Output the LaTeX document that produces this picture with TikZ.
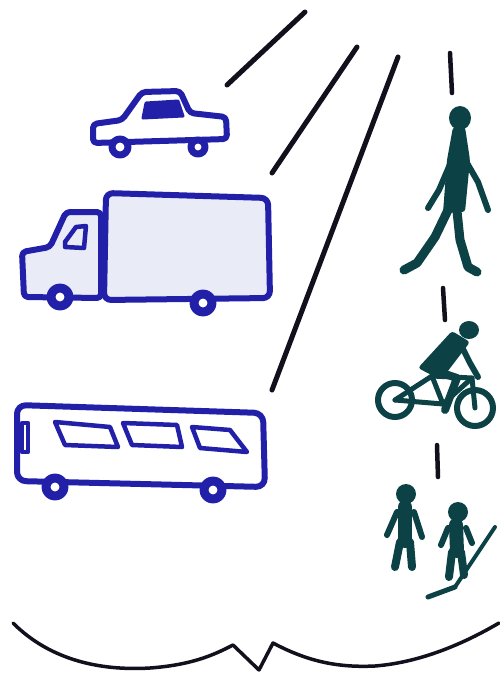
\documentclass[tikz,border=0pt]{standalone}
\usepackage{xcolor}

\definecolor{inkblue}{RGB}{34,32,168}
\definecolor{inkteal}{RGB}{12,66,70}
\definecolor{inkblack}{RGB}{18,16,28}
\definecolor{boxfill}{RGB}{233,236,246}

\begin{document}
\begin{tikzpicture}[x=1pt,y=-1pt,line join=round,line cap=round,
    roadline/.style={inkblack,line width = 5pt},
    vehicle/.style={inkblue,line width = 6pt},
    wheel/.style={inkblue,line width = 9pt,fill=white},
    limb/.style={inkteal,line width = 6pt}]

            \useasboundingbox (0,0) rectangle (499,673);
            \fill[white] (0,0) rectangle (499,673);

            \draw[roadline] (227,85) -- (305,12);
            \draw[roadline] (272,173) -- (357,47);
            \draw[roadline] (272,390) -- (398,57);

            \draw[roadline, line width = 4.5pt] (450,53) -- (452,93);
            \draw[roadline, line width = 4.5pt] (443,288) -- (445,320);
            \draw[roadline, line width = 4.5pt] (437,445) -- (438,477);

            \draw[inkblack, line width = 3.5pt] (13,623) .. controls (50,660) and (100,671) .. (150,668)
                .. controls (190,665) and (212,656) .. (233,645) -- (259,670) -- (273,643)
                .. controls (305,660) and (335,668) .. (375,666) .. controls (425,662) and (470,640) .. (499,623);

            \draw[vehicle, fill=white, rounded corners=4] (93,124) -- (122,120) -- (142,92) -- (180,91)
                -- (190,113) -- (226,117) -- (227,139) -- (93,143) -- cycle;
            \filldraw[vehicle, line width = 3pt] (146,103) -- (178,101) -- (183,116) -- (143,118) -- cycle;
            \draw[wheel, line width = 7pt] (120,147) circle (8);
            \draw[wheel, line width = 7pt] (198,147) circle (7);

            \draw[vehicle, fill=boxfill, rounded corners=7] (106,193) -- (268,198) -- (270,298) -- (104,300) -- cycle;
            \draw[vehicle, fill=boxfill, rounded corners=4] (101,212) -- (66,212) -- (50,247) -- (22,252)
                -- (24,297) -- (101,298) -- cycle;
            \draw[vehicle, line width = 4.5pt] (65,242) -- (76,227) -- (86,226) -- (84,248) -- (65,247) -- cycle;
            \draw[wheel] (60,297) circle (9);
            \draw[wheel] (203,303) circle (9);

            \draw[vehicle, fill=white, rounded corners=9] (17,405) -- (263,413) -- (265,487) -- (17,481) -- cycle;
            \draw[vehicle, line width = 4.5pt] (22,423) rectangle (28,452);
            \draw[vehicle, line width = 4.5pt] (55,422) -- (110,427) -- (118,447) -- (65,445) -- cycle;
            \draw[vehicle, line width = 4.5pt] (123,423) -- (177,425) -- (182,447) -- (132,445) -- cycle;
            \draw[vehicle, line width = 4.5pt] (192,427) -- (230,430) -- (247,452) -- (200,448) -- cycle;
            \draw[wheel] (55,487) circle (9);
            \draw[wheel] (213,490) circle (9);

            \fill[inkteal] (460,118) ellipse (11 and 12);
            \fill[inkteal, rounded corners=3] (453,127) -- (465,127) -- (470,160) -- (465,212) -- (443,213)
                -- (447,160) -- cycle;
            \draw[limb] (451,162) -- (439,190) -- (428,208);
            \draw[limb] (467,163) -- (478,182) -- (488,210);
            \draw[limb, line width = 9pt] (449,208) -- (435,237) -- (417,263) -- (404,270);
            \draw[limb, line width = 9pt] (457,211) -- (460,240) -- (468,267) -- (477,272);

            \fill[inkteal] (469,330) ellipse (10 and 9);
            \fill[inkteal, rounded corners=3] (452,331) -- (470,342) -- (441,380) -- (418,368) -- cycle;
            \draw[limb] (462,347) -- (470,363) -- (478,377);
            \draw[limb, line width = 8pt] (433,370) -- (457,378) -- (445,410);
            \draw[limb, line width = 5pt] (395,400) -- (443,404) -- (472,378) -- (475,408);
            \draw[limb, line width = 5pt] (395,400) -- (432,376) -- (443,404);
            \draw[limb, line width = 5pt] (432,376) -- (472,378);
            \draw[limb] (395,400) circle (17);
            \draw[limb] (475,408) circle (18);

            \fill[inkteal] (406,494) circle (10);
            \draw[limb, line width = 14pt] (405,507) -- (405,541);
            \draw[limb] (397,512) -- (387,535);
            \draw[limb] (414,512) -- (422,537);
            \draw[limb, line width = 8pt] (400,542) -- (395,567);
            \draw[limb, line width = 8pt] (410,542) -- (412,567);

            \fill[inkteal] (458,512) circle (10);
            \draw[limb, line width = 14pt] (456,525) -- (457,551);
            \draw[limb] (448,528) -- (441,545);
            \draw[limb] (466,528) -- (472,543);
            \draw[limb, line width = 8pt] (452,552) -- (449,577);
            \draw[limb, line width = 8pt] (461,552) -- (464,575);
            \draw[limb, line width = 4pt] (495,527) -- (455,587);
            \draw[limb, line width = 5pt] (455,587) -- (428,597);

        \end{tikzpicture}
\end{document}
